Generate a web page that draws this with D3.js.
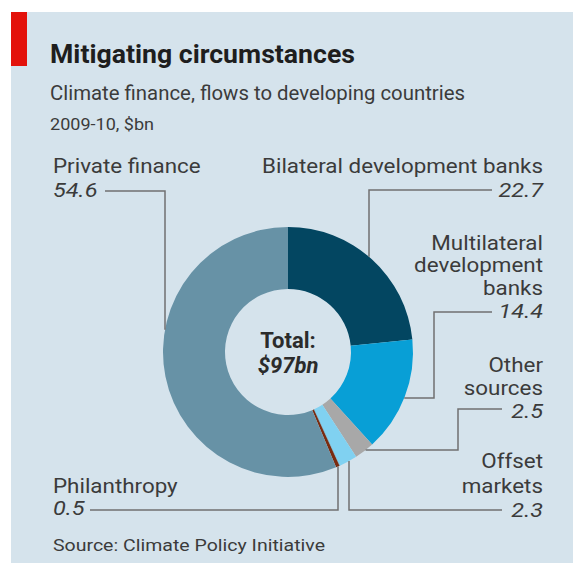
<!DOCTYPE html>
<html><head><meta charset="utf-8">
<script src="https://cdn.jsdelivr.net/npm/d3@7/dist/d3.min.js"></script>
<style>
html,body{margin:0;padding:0;background:#fff;}
svg{display:block;}
text{font-family:Roboto,"Open Sans","DejaVu Sans",sans-serif;}
</style></head>
<body>
<script>
// ---- data ----
const categories = ["Bilateral development banks","Multilateral development banks","Other sources","Offset markets","Philanthropy","Private finance"];
const values = [22.7, 14.4, 2.5, 2.3, 0.5, 54.6];
const valueLabels = ["22.7","14.4","2.5","2.3","0.5","54.6"];
const labelLines = [["Bilateral development banks"],["Multilateral","development","banks"],["Other","sources"],["Offset","markets"],["Philanthropy"],["Private finance"]];
const colors = ["#034661","#089fd6","#a8a8a8","#80d1f1","#7a2b10","#6792a6"];
const titleText = "Mitigating circumstances";
const subtitleText = "Climate finance, flows to developing countries";
const unitText = "2009-10, $bn";
const sourceText = "Source: Climate Policy Initiative";
const totalLabel = "Total:";
const totalValue = "$97bn";

// ---- layout ----
const W = 573, H = 563;
const cx = 288, cy = 352, R = 125, r = 63;
const svg = d3.select("body").append("svg").attr("width", W).attr("height", H);
svg.append("rect").attr("x",11).attr("y",12).attr("width",W-11).attr("height",H-12).attr("fill","#d5e3ec");
svg.append("rect").attr("x",11).attr("y",12).attr("width",16).attr("height",54).attr("fill","#e3120b");

function fit(sel, target){
  const n = sel.node(); const w = n.getComputedTextLength();
  if (target && Math.abs(w-target)/target > 0.02) sel.attr("textLength", target).attr("lengthAdjust","spacingAndGlyphs");
  return sel;
}
function stretch(sel, k){
  const w = sel.node().getComputedTextLength();
  sel.attr("textLength", w*k).attr("lengthAdjust","spacingAndGlyphs");
  return sel;
}
fit(svg.append("text").attr("x",50).attr("y",63).attr("font-size",25.5).attr("font-weight",700).attr("fill","#1e1e1e").text(titleText),305);
fit(svg.append("text").attr("x",50).attr("y",100).attr("font-size",19.5).attr("fill","#3b3b3b").text(subtitleText),415);
fit(svg.append("text").attr("x",50).attr("y",130).attr("font-size",16).attr("fill","#3b3b3b").text(unitText),104);
fit(svg.append("text").attr("x",53).attr("y",551).attr("font-size",16.5).attr("fill","#3b3b3b").text(sourceText),272);

// ---- donut ----
const pie = d3.pie().sort(null).value(d=>d)(values);
const arc = d3.arc().innerRadius(r).outerRadius(R);
const g = svg.append("g").attr("transform",`translate(${cx},${cy})`);
g.selectAll("path").data(pie).join("path").attr("d",arc).attr("fill",(d,i)=>colors[i]);
g.selectAll("line.sep").data(pie.filter((d,i)=>i===4)).join("line")
  .attr("x1",d=>r*Math.sin(d.startAngle)).attr("y1",d=>-r*Math.cos(d.startAngle))
  .attr("x2",d=>R*Math.sin(d.startAngle)).attr("y2",d=>-R*Math.cos(d.startAngle))
  .attr("stroke","#80d1f1").attr("stroke-width",0.6);

g.append("text").attr("text-anchor","middle").attr("y",-4).attr("font-size",22).attr("font-weight",700).attr("fill","#2b2b2b").text(totalLabel);
g.append("text").attr("text-anchor","middle").attr("y",21).attr("font-size",22).attr("font-weight",700).attr("font-style","italic").attr("fill","#2b2b2b").text(totalValue);

// ---- labels & leaders ----
const labelFont = 20.5;
// horizontal stretch factor so label font matches reference width
const probe = svg.append("text").attr("font-size",labelFont).text(labelLines[0][0]);
const k = 281 / probe.node().getComputedTextLength();
probe.remove();

const labelLayout = [
  {anchor:"end", x:543, ys:[173], vy:197, leader:{pts:[[492,190],[369,190]], end:"v"}},
  {anchor:"end", x:543, ys:[250,272,295], vy:318, leader:{pts:[[492,312],[434,312],[434,398]], end:"h"}},
  {anchor:"end", x:543, ys:[372,395], vy:418, leader:{pts:[[502,409],[458,409],[458,450]], end:"h"}},
  {anchor:"end", x:543, ys:[468,493], vy:517, leader:{pts:[[502,510],[349,510]], end:"v"}},
  {anchor:"start", x:53, ys:[493], vy:515, leader:{pts:[[90,510],[338,510]], end:"v"}},
  {anchor:"start", x:53, ys:[173], vy:197, leader:{pts:[[105,191],[165,191]], end:"v"}}
];
const lineGen = d3.line();
labelLayout.forEach((L,i)=>{
  labelLines[i].forEach((t,j)=>{
    stretch(svg.append("text").attr("x",L.x).attr("y",L.ys[j]).attr("text-anchor",L.anchor)
      .attr("font-size",labelFont).attr("fill","#3b3b3b").text(t), k);
  });
  stretch(svg.append("text").attr("x",L.x).attr("y",L.vy).attr("text-anchor",L.anchor)
    .attr("font-size",labelFont).attr("font-style","italic").attr("fill","#3b3b3b").text(valueLabels[i]), k*1.05);
  const pts = L.leader.pts.slice();
  const last = pts[pts.length-1];
  let endPt;
  if (L.leader.end==="v"){
    const dx = last[0]-cx; const dy = Math.sqrt(Math.max(0,R*R-dx*dx));
    endPt = [last[0], last[1] > cy ? cy+dy : cy-dy];
  } else {
    const dy = last[1]-cy; const dx = Math.sqrt(Math.max(0,R*R-dy*dy));
    endPt = [last[0] > cx ? cx+dx : cx-dx, last[1]];
  }
  pts.push(endPt);
  svg.append("path").attr("d",lineGen(pts)).attr("fill","none").attr("stroke","#707070").attr("stroke-width",1.5);
});
</script>
</body></html>
